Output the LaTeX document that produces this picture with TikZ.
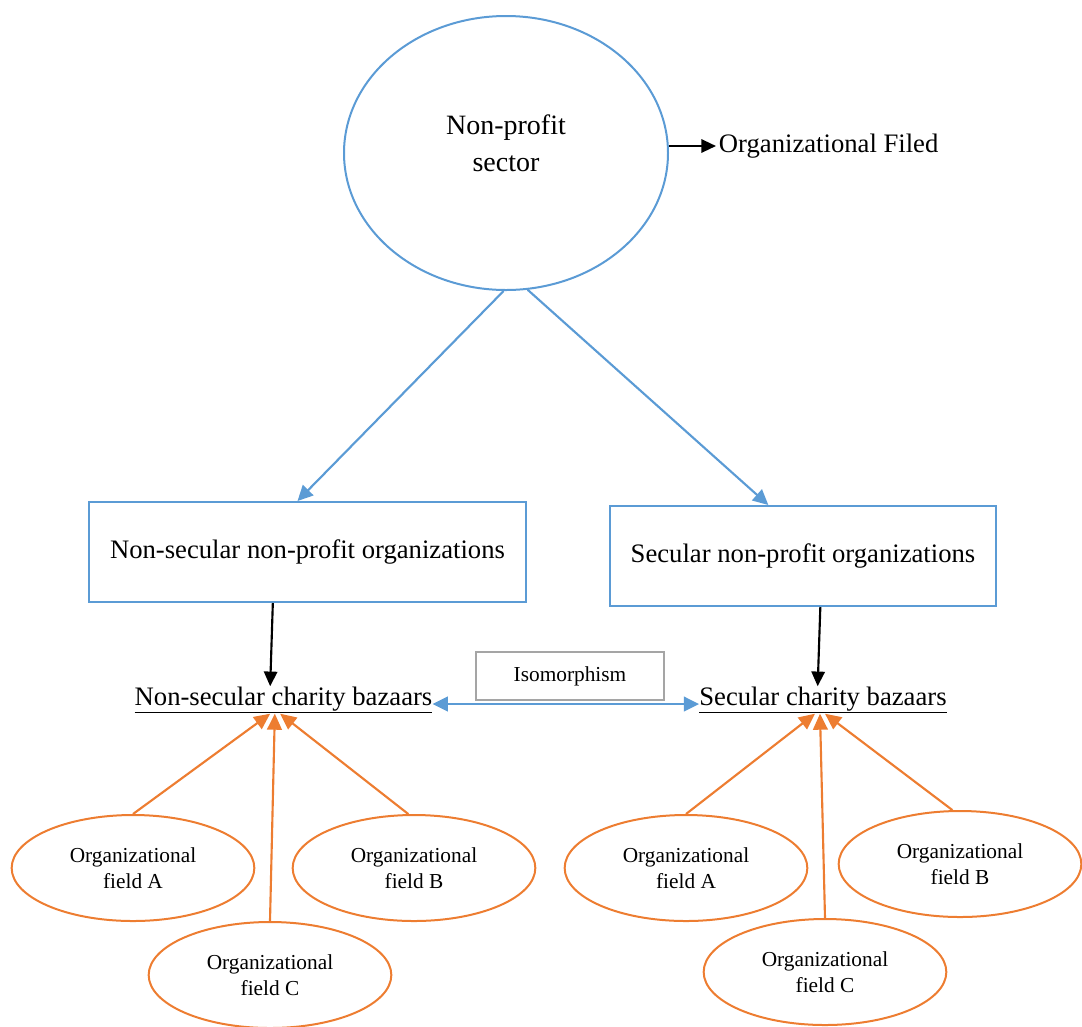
\documentclass[tikz,border=0pt]{standalone}
\usepackage{fontspec}
\setmainfont{Liberation Serif}
\usetikzlibrary{shapes.geometric,arrows.meta}
\definecolor{cblue}{HTML}{5B9BD5}
\definecolor{corange}{HTML}{ED7D31}
\definecolor{cgray}{HTML}{A5A5A5}
\tikzset{
  bigtip/.tip={Triangle[length=11.5pt,width=11pt]},
  bigtext/.style={font=\fontsize{20}{27.75}\selectfont},
  smalltext/.style={font=\fontsize{16}{19.5}\selectfont},
  orgbox/.style={draw=cblue, line width=1.5pt, rectangle, minimum height=75pt, bigtext, align=center},
  fieldell/.style={draw=corange, line width=1.5pt, ellipse, minimum width=182pt, minimum height=79.5pt, inner sep=0pt, smalltext, align=center},
  bazaar/.style={bigtext, inner sep=0pt, anchor=base},
  bluearrow/.style={draw=cblue, line width=1.6pt, -{bigtip}},
  blackarrow/.style={draw=black, line width=1.6pt, -{Triangle[length=11pt,width=10pt]}},
  orangearrow/.style={draw=corange, line width=1.6pt, -{Triangle[length=12pt,width=11pt]}},
}
\begin{document}
\begin{tikzpicture}[x=0.75pt,y=-0.75pt]
  \useasboundingbox (0,0) rectangle (1082,1026);

  % sector
  \node[draw=cblue, line width=1.5pt, ellipse, minimum width=243pt, minimum height=205.5pt,
        inner sep=0pt] (sector) at (506,153) {};
  \node[font=\fontsize{21}{27.75}\selectfont, align=center] (sectortext) at (506,143) {Non-profit\\sector};
  \node[bigtext, anchor=west, inner sep=2pt] (filed) at (716,146) {Organizational Filed};

  % organisations
  \node[orgbox, minimum width=327.75pt] (lbox) at (307.5,552) {Non-secular non-profit organizations};
  \node[orgbox, minimum width=289.5pt] (rbox) at (803,556) {Secular non-profit organizations};

  % bazaars
  \node[bazaar] (lbaz) at (283.5,705) {\underline{Non-secular charity bazaars}};
  \node[bazaar] (rbaz) at (823,705) {\underline{Secular charity bazaars}};
  \node[draw=cgray, line width=1.5pt, minimum width=141pt, minimum height=36pt, smalltext] (iso) at (570,676) {Isomorphism};

  % organizational fields
  \node[fieldell] (la) at (133,868) {Organizational\\field A};
  \node[fieldell] (lb) at (414,868) {Organizational\\field B};
  \node[fieldell] (lc) at (270,975) {Organizational\\field C};
  \node[fieldell] (ra) at (686,868) {Organizational\\field A};
  \node[fieldell] (rb) at (960,864) {Organizational\\field B};
  \node[fieldell] (rc) at (825,972) {Organizational\\field C};

  % connectors
  \draw[blackarrow] (sector.east |- filed.west) -- (filed.west);
  \draw[bluearrow] (sector.-91) -- ([xshift=-7.5pt]lbox.north);
  \draw[bluearrow] (sector.-81) -- ([xshift=-26pt]rbox.north);
  \draw[blackarrow] ([xshift=-26pt]lbox.south) -- ([xshift=-10pt]lbaz.north);
  \draw[blackarrow] ([xshift=13pt]rbox.south) -- ([xshift=-4pt]rbaz.north);
  \draw[bluearrow, {bigtip}-{bigtip}]
       ([yshift=0.75pt]lbaz.base east) -- ([yshift=0.75pt]rbaz.base west);

  \draw[orangearrow] (la.north) -- ([xshift=-10pt]lbaz.south);
  \draw[orangearrow] (lc.north) -- ([xshift=-6.5pt]lbaz.south);
  \draw[orangearrow] (lb.96) -- ([xshift=-2.5pt]lbaz.south);
  \draw[orangearrow] (ra.north) -- ([xshift=-6pt]rbaz.south);
  \draw[orangearrow] (rc.north) -- ([xshift=-2.25pt]rbaz.south);
  \draw[orangearrow] (rb.98) -- ([xshift=1.5pt]rbaz.south);
\end{tikzpicture}
\end{document}
